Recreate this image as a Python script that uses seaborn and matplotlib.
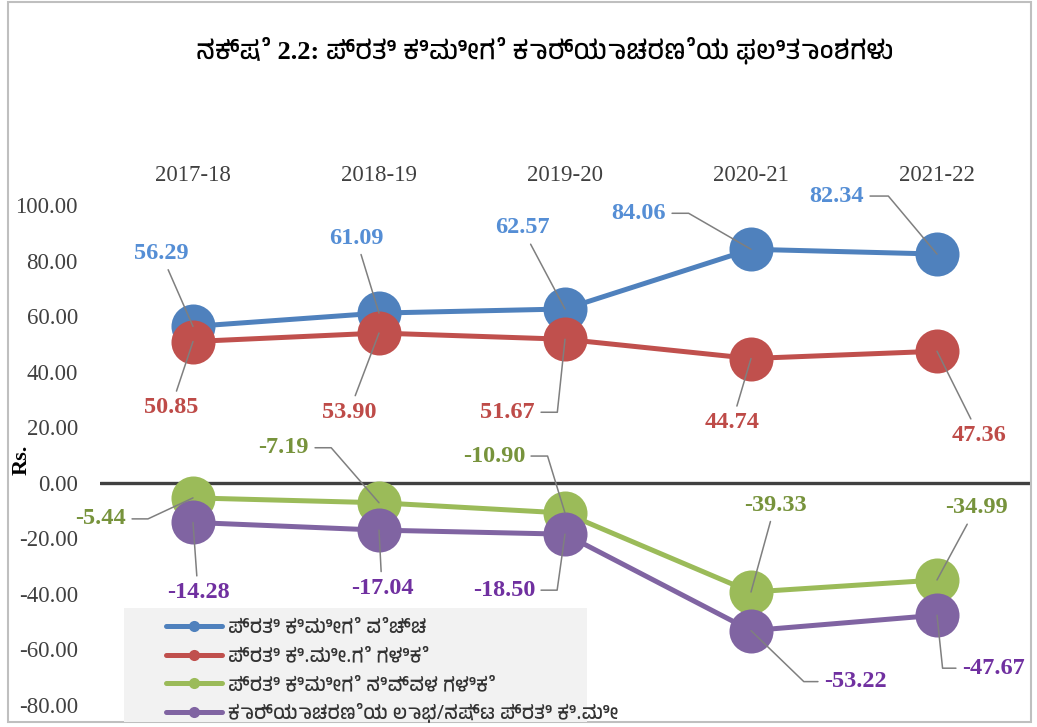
import matplotlib
matplotlib.use("Agg")
import matplotlib.pyplot as plt
import seaborn as sns
from matplotlib import font_manager
from matplotlib.ft2font import FT2Font
from matplotlib.patches import Rectangle

# Data (Rs. per km)
years = ["2017-18", "2018-19", "2019-20", "2020-21", "2021-22"]
cost_per_km = [56.29, 61.09, 62.57, 84.06, 82.34]
earnings_per_km = [50.85, 53.90, 51.67, 44.74, 47.36]
net_earnings_per_km = [-5.44, -7.19, -10.90, -39.33, -34.99]
op_result_per_km = [-14.28, -17.04, -18.50, -53.22, -47.67]

series_names = [
    "ಪ್ರತಿ ಕಿಮೀಗೆ ವೆಚ್ಚ",
    "ಪ್ರತಿ ಕಿ.ಮೀ.ಗೆ ಗಳಿಕೆ",
    "ಪ್ರತಿ ಕಿಮೀಗೆ ನಿವ್ವಳ ಗಳಿಕೆ",
    "ಕಾರ್ಯಾಚರಣೆಯ ಲಾಭ/ನಷ್ಟ ಪ್ರತಿ ಕಿ.ಮೀ",
]
title = "ನಕ್ಷೆ 2.2: ಪ್ರತಿ ಕಿಮೀಗೆ ಕಾರ್ಯಾಚರಣೆಯ ಫಲಿತಾಂಶಗಳು"
yticks = [100, 80, 60, 40, 20, 0, -20, -40, -60, -80]

line_colors = ["#4F81BD", "#C0504D", "#9BBB59", "#8064A2"]
label_colors = ["#558ED5", "#BE4B48", "#77933C", "#7030A0"]


def kannada_font():
    # pick an installed font that has Kannada glyphs
    names = set()
    for f in font_manager.fontManager.ttflist:
        try:
            if 0x0C95 in FT2Font(f.fname).get_charmap():
                names.add(f.name)
        except Exception:
            pass
    names = sorted(names)
    pref = [n for n in names if "Kannada" in n and "Mono" not in n] or \
           [n for n in names if "Mono" not in n] or names or ["DejaVu Sans"]
    return pref[0]


sns.set_style("white")
kn_font = kannada_font()
plt.rcParams["font.family"] = ["Noto Sans", kn_font, "DejaVu Sans"]
serif = ["Liberation Serif", "DejaVu Serif"]

W, H = 1037, 727
fig = plt.figure(figsize=(W / 100, H / 100), dpi=100)
ax = fig.add_axes([100 / W, 1 - 705 / H, 930 / W, 500 / H])

all_values = [cost_per_km, earnings_per_km, net_earnings_per_km, op_result_per_km]
for vals, name, c in zip(all_values, series_names, line_colors):
    sns.pointplot(x=years, y=vals, color=c, markers="o", linestyles="-",
                  markersize=31.7, linewidth=3.6, markeredgewidth=0,
                  errorbar=None, label=name, ax=ax)

ax.axhline(0, color="#404040", lw=2.4, zorder=1)
ax.set_ylim(-80, 100)
ax.set_xlim(-0.5, len(years) - 0.5)
ax.set_yticks(yticks)
ax.set_yticklabels([f"{v:.2f}" for v in yticks], family=serif, fontsize=16.5, color="#404040")
ax.xaxis.tick_top()
ax.set_xticks(range(len(years)))
ax.set_xticklabels(years, family=serif, fontsize=16.5, color="#404040")
ax.tick_params(axis="both", length=0)
ax.tick_params(axis="x", pad=14)
ax.tick_params(axis="y", pad=16)
ax.set_xlabel("")
ax.set_ylabel("")
for s in ax.spines.values():
    s.set_visible(False)
ax.grid(False)

# label layout: (dx, dy) pixel offset from point, ha, elbow angle of leader
layout = [
    [(-32, 73, "center", None), (-23, 75, "center", None), (-43, 81, "center", None),
     (-85, 36, "right", 150), (-73, 58, "right", 130)],
    [(-22, -66, "center", None), (-30, -79, "center", None), (-30, -73, "right", 84),
     (-19, -64, "center", None), (42, -84, "center", None)],
    [(-67, -21, "right", 25), (-70, 55, "right", 131), (-40, 57, "right", 107),
     (24, 87, "center", None), (39, 72, "center", None)],
    [(5, -70, "center", None), (3, -58, "center", None), (-30, -56, "right", 82),
     (73, -51, "left", -44), (25, -53, "left", 96)],
]

for vals, lc, lay in zip(all_values, label_colors, layout):
    for i, (v, (dx, dy, ha, angB)) in enumerate(zip(vals, lay)):
        if angB is None:
            cs = "arc3"
            relpos = (0.5, 0.5)
        else:
            angA = 180 if ha == "left" else 0
            cs = f"angle,angleA={angA},angleB={angB},rad=0"
            relpos = (0, 0.5) if ha == "left" else (1, 0.5)
        ax.annotate(f"{v:.2f}", xy=(i, v), xytext=(dx, dy), textcoords="offset pixels",
                    ha=ha, va="center", family=serif, fontsize=17.5, fontweight="bold",
                    color=lc, zorder=10, annotation_clip=False,
                    arrowprops=dict(arrowstyle="-", color="#7F7F7F", lw=1.1,
                                    connectionstyle=cs, relpos=relpos,
                                    shrinkA=2, shrinkB=0))

# legend box
fig.patches.append(Rectangle((124 / W, 1 - 722 / H), 463 / W, 114 / H,
                             transform=fig.transFigure, facecolor="#F2F2F2",
                             edgecolor="none", zorder=1))
handles, labels = ax.get_legend_handles_labels()
leg = ax.get_legend()
if leg is not None:
    leg.remove()
leg = fig.legend(handles, labels, loc="upper left", bbox_to_anchor=(156 / W, 1 - 608 / H),
                 frameon=False, borderpad=0, fontsize=14, handlelength=2.9,
                 handletextpad=0.3, labelspacing=0.45, labelcolor="#333333")
for h in leg.legend_handles:
    h.set_markersize(8)
    h.set_linewidth(3.6)

fig.text(545 / W, 1 - 50 / H, title, ha="center", va="center", fontsize=19,
         fontweight="bold", color="black", family=["Liberation Serif", kn_font])
fig.text(22 / W, 1 - 460 / H, "Rs.", rotation=90, ha="center", va="center",
         family=serif, fontsize=16, fontweight="bold", color="black")

# chart border
fig.patches.append(Rectangle((8 / W, 1 - 722 / H), 1023 / W, 720 / H,
                             transform=fig.transFigure, fill=False,
                             edgecolor="#BFBFBF", lw=1.5, zorder=0))

fig.savefig("out.png", dpi=100)
